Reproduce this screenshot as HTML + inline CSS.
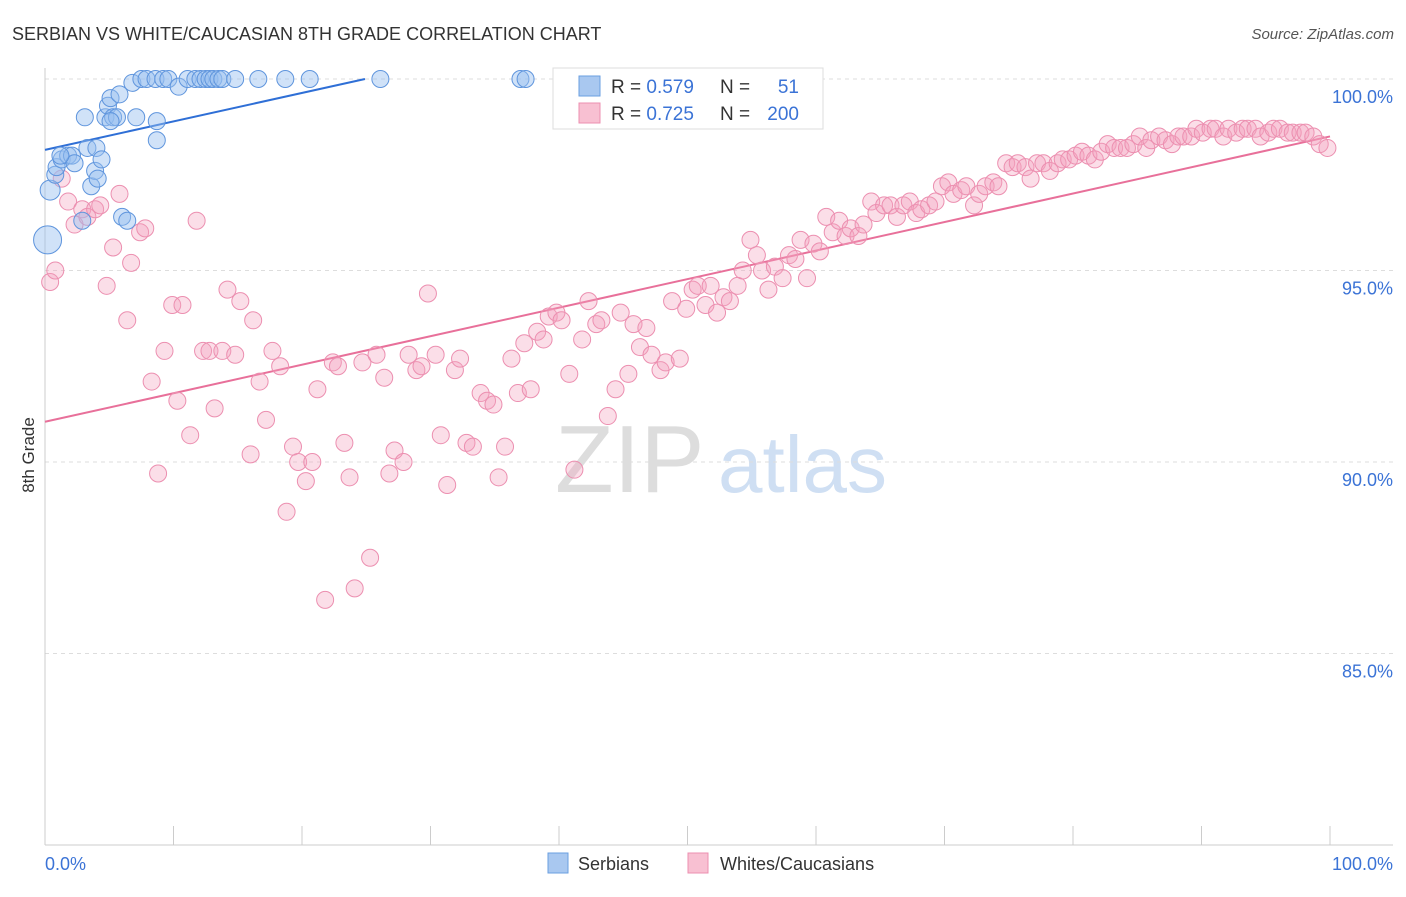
<!DOCTYPE html>
<html><head><meta charset="utf-8"><style>
body{margin:0;background:#fff;font-family:"Liberation Sans",sans-serif}
svg text{font-family:"Liberation Sans",sans-serif}
</style></head><body>
<svg id="chart" width="1406" height="892" xmlns="http://www.w3.org/2000/svg">
<text x="12" y="40" font-size="18" fill="#333">SERBIAN VS WHITE/CAUCASIAN 8TH GRADE CORRELATION CHART</text>
<text x="1394" y="39" font-size="15" fill="#555" text-anchor="end" font-style="italic">Source: ZipAtlas.com</text>
<g>
<text x="555" y="492" font-size="96" fill="#ddd" font-family="Liberation Serif">ZIP</text>
<text x="718" y="492" font-size="80" fill="#cfdff3">atlas</text>
</g>
<g id="grid"></g>
<g id="axes"></g>
<g id="trend"></g>
<g id="points"></g>
<text transform="translate(34,455) rotate(-90)" font-size="17" fill="#333" text-anchor="middle">8th Grade</text>
<g>
<rect x="553" y="68" width="270" height="61" fill="#fff" stroke="#ddd"/>
<rect x="579" y="76" width="21" height="20" fill="#a9c8f0" stroke="#6a9fe0"/>
<rect x="579" y="103" width="21" height="20" fill="#f8c0d2" stroke="#ec8fb0"/>
<text x="611" y="93" font-size="19" fill="#333">R = <tspan fill="#3b73d6">0.579</tspan></text>
<text x="720" y="93" font-size="19" fill="#333">N = </text><text x="799" y="93" font-size="19" fill="#3b73d6" text-anchor="end">51</text>
<text x="611" y="120" font-size="19" fill="#333">R = <tspan fill="#3b73d6">0.725</tspan></text>
<text x="720" y="120" font-size="19" fill="#333">N = </text><text x="799" y="120" font-size="19" fill="#3b73d6" text-anchor="end">200</text>
</g>
<g>
<rect x="548" y="853" width="20" height="20" fill="#a9c8f0" stroke="#6a9fe0"/>
<text x="578" y="870" font-size="18" fill="#333">Serbians</text>
<rect x="688" y="853" width="20" height="20" fill="#f8c0d2" stroke="#ec8fb0"/>
<text x="720" y="870" font-size="18" fill="#333">Whites/Caucasians</text>
</g>
</svg>
<script>
const yTicks=[100,95,90,85];
const yTickLabels=["100.0%","95.0%","90.0%","85.0%"];
const xTickCount=10;
const blueTrend=[98.15,100,0,24.9]; // y at x0, y at x1, x0, x1
const pinkTrend=[91.05,98.5,0,100];
const blueX=[0.2,0.4,0.8,0.9,1.3,1.8,2.1,2.3,2.9,3.1,3.3,3.6,3.9,4.0,4.1,4.4,4.7,4.9,5.1,5.3,5.6,5.8,6.0,6.4,6.8,7.1,7.5,7.9,8.6,8.7,8.7,9.2,9.6,10.4,11.1,11.7,12.1,12.5,12.8,13.1,13.5,13.8,14.8,16.6,18.7,20.6,26.1,37.0,37.4,1.2,5.1];
const blueY=[95.8,97.1,97.5,97.7,97.9,98.0,98.0,97.8,96.3,99.0,98.2,97.2,97.6,98.2,97.4,97.9,99.0,99.3,99.5,99.0,99.0,99.6,96.4,96.3,99.9,99.0,100,100,100,98.9,98.4,100,100,99.8,100,100,100,100,100,100,100,100,100,100,100,100,100,100,100,98.0,98.9];
const pinkX=[0.4,0.8,1.3,1.8,2.3,2.9,3.3,3.9,4.3,4.8,5.3,5.8,6.4,6.7,7.4,7.8,8.3,8.8,9.3,9.9,10.3,10.7,11.3,11.8,12.3,12.8,13.2,13.8,14.2,14.8,15.2,16.0,16.2,16.7,17.2,17.7,18.3,18.8,19.3,19.7,20.3,20.8,21.2,21.8,22.4,22.8,23.3,23.7,24.1,24.7,25.3,25.8,26.4,26.8,27.2,27.9,28.3,28.9,29.3,29.8,30.4,30.8,31.3,31.9,32.3,32.8,33.3,33.9,34.4,34.9,35.3,35.8,36.3,36.8,37.3,37.8,38.3,38.8,39.2,39.8,40.2,40.8,41.2,41.8,42.3,42.9,43.3,43.8,44.4,44.8,45.4,45.8,46.3,46.8,47.2,47.9,48.3,48.8,49.4,49.9,50.4,50.8,51.4,51.8,52.3,52.8,53.3,53.9,54.3,54.9,55.4,55.8,56.3,56.8,57.4,57.9,58.4,58.8,59.3,59.8,60.3,60.8,61.3,61.8,62.3,62.7,63.3,63.7,64.3,64.7,65.3,65.8,66.3,66.8,67.3,67.8,68.2,68.8,69.3,69.8,70.3,70.7,71.3,71.7,72.3,72.7,73.2,73.8,74.2,74.8,75.3,75.7,76.3,76.7,77.2,77.7,78.2,78.8,79.2,79.7,80.2,80.7,81.2,81.7,82.2,82.7,83.2,83.7,84.2,84.7,85.2,85.7,86.1,86.7,87.2,87.7,88.2,88.6,89.2,89.6,90.1,90.7,91.1,91.7,92.1,92.7,93.2,93.6,94.2,94.6,95.2,95.6,96.1,96.7,97.1,97.7,98.1,98.7,99.2,99.8];
const pinkY=[94.7,95.0,97.4,96.8,96.2,96.6,96.4,96.6,96.7,94.6,95.6,97.0,93.7,95.2,96.0,96.1,92.1,89.7,92.9,94.1,91.6,94.1,90.7,96.3,92.9,92.9,91.4,92.9,94.5,92.8,94.2,90.2,93.7,92.1,91.1,92.9,92.5,88.7,90.4,90.0,89.5,90.0,91.9,86.4,92.6,92.5,90.5,89.6,86.7,92.6,87.5,92.8,92.2,89.7,90.3,90.0,92.8,92.4,92.5,94.4,92.8,90.7,89.4,92.4,92.7,90.5,90.4,91.8,91.6,91.5,89.6,90.4,92.7,91.8,93.1,91.9,93.4,93.2,93.8,93.9,93.7,92.3,89.8,93.2,94.2,93.6,93.7,91.2,91.9,93.9,92.3,93.6,93.0,93.5,92.8,92.4,92.6,94.2,92.7,94.0,94.5,94.6,94.1,94.6,93.9,94.3,94.2,94.6,95.0,95.8,95.4,95.0,94.5,95.1,94.8,95.4,95.3,95.8,94.8,95.7,95.5,96.4,96.0,96.3,95.9,96.1,95.9,96.2,96.8,96.5,96.7,96.7,96.4,96.7,96.8,96.5,96.6,96.7,96.8,97.2,97.3,97.0,97.1,97.2,96.7,97.0,97.2,97.3,97.2,97.8,97.7,97.8,97.7,97.4,97.8,97.8,97.6,97.8,97.9,97.9,98.0,98.1,98.0,97.9,98.1,98.3,98.2,98.2,98.2,98.3,98.5,98.2,98.4,98.5,98.4,98.3,98.5,98.5,98.5,98.7,98.6,98.7,98.7,98.5,98.7,98.6,98.7,98.7,98.7,98.5,98.6,98.7,98.7,98.6,98.6,98.6,98.6,98.5,98.3,98.2];
const NS="http://www.w3.org/2000/svg";
const X0=45,X1=1330,YTOP=79,YBOT=845;
const xs=v=>X0+(X1-X0)*v/100;
const ys=v=>YTOP+(100-v)*(YBOT-YTOP)/20;
function mk(tag,attrs,parent){const e=document.createElementNS(NS,tag);for(const k in attrs)e.setAttribute(k,attrs[k]);parent.appendChild(e);return e;}
const grid=document.getElementById('grid'),axes=document.getElementById('axes');
yTicks.forEach((t,i)=>{
 const l=mk('line',{x1:X0,x2:1393,y1:ys(t),y2:ys(t),stroke:'#ddd','stroke-dasharray':'4,4'},grid);
 
 
 const tx=mk('text',{x:1393,y:ys(t)+24,'font-size':18,fill:'#3b73d6','text-anchor':'end'},axes);
 tx.textContent=yTickLabels[i];
 
 
});
const ax=mk('line',{x1:X0,x2:1393,y1:YBOT,y2:YBOT,stroke:'#ccc'},axes);


const ay=mk('line',{x1:X0,x2:X0,y1:68,y2:YBOT,stroke:'#ccc'},axes);


for(let i=0;i<=xTickCount;i++){
 const t=mk('line',{x1:xs(i*10),x2:xs(i*10),y1:826,y2:YBOT,stroke:'#ccc'},axes);
 
 
}
const xl0=mk('text',{x:45,y:870,'font-size':18,fill:'#3b73d6'},axes);xl0.textContent='0.0%';


const xl1=mk('text',{x:1393,y:870,'font-size':18,fill:'#3b73d6','text-anchor':'end'},axes);xl1.textContent='100.0%';


const pts=document.getElementById('points');
pinkX.forEach((x,i)=>{
 const c=mk('circle',{cx:xs(x),cy:ys(pinkY[i]),r:8.5,fill:'rgba(244,160,188,0.35)',stroke:'#ec8fb0','stroke-width':1},pts);
 
 
});
blueX.forEach((x,i)=>{
 const r=i===0?14:(i===1?10:8.5);
 const c=mk('circle',{cx:xs(x),cy:ys(blueY[i]),r:r,fill:'rgba(150,190,240,0.45)',stroke:'#5f95dd','stroke-width':1},pts);
 
 
});
const tr=document.getElementById('trend');
const bl=mk('line',{x1:xs(blueTrend[2]),y1:ys(blueTrend[0]),x2:xs(blueTrend[3]),y2:ys(blueTrend[1]),stroke:'#2f6fd6','stroke-width':2},tr);


const pl=mk('line',{x1:xs(pinkTrend[2]),y1:ys(pinkTrend[0]),x2:xs(pinkTrend[3]),y2:ys(pinkTrend[1]),stroke:'#e8709a','stroke-width':2},tr);


</script>
</body></html>
